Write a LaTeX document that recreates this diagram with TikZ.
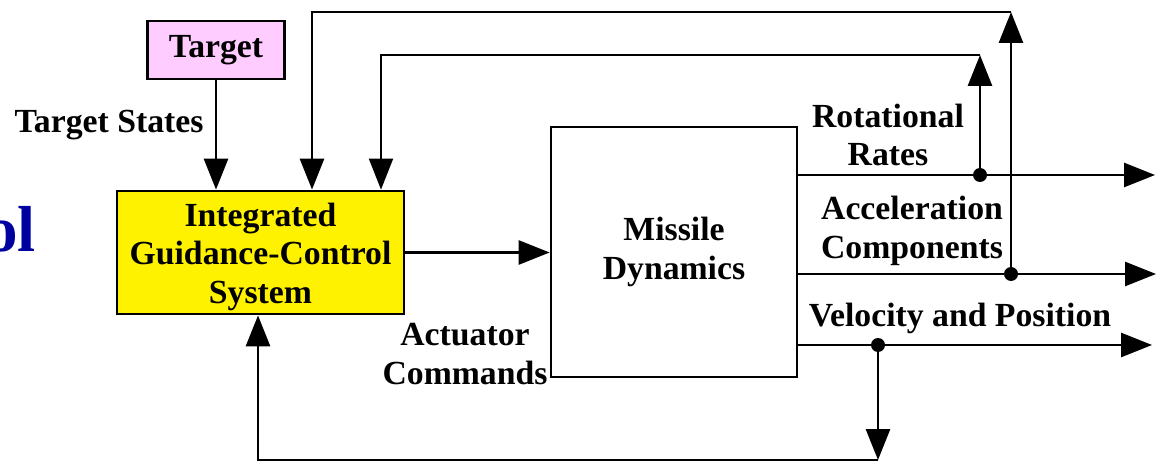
\documentclass[tikz,border=0pt]{standalone}
\usepackage{fontspec}
\setmainfont{Liberation Serif}
\usepackage{xcolor}
\usepackage{tikz}
\usetikzlibrary{arrows.meta, positioning, calc}

\definecolor{targetpink}{RGB}{255,204,255}
\definecolor{titleblue}{RGB}{0,0,160}
\newcommand{\tagfont}{\fontsize{19.2}{22}\selectfont\bfseries}

\begin{document}
\begin{tikzpicture}[
    x=0.02cm, y=-0.02cm,
    block/.style={rectangle, draw, line width=1.6pt, inner sep=0pt, align=center, font=\tagfont},
    tag/.style={inner sep=0pt, align=center, font=\tagfont},
    arrow/.style={-{Triangle[length=0.62cm, width=0.48cm]}, line width=1.6pt},
    fbline/.style={line width=1.1pt},
    junction/.style={fill=black}
]
\useasboundingbox (0,0) rectangle (1156,462);

% Blocks
\node[block, fill=targetpink, minimum width=2.74cm, minimum height=1.16cm] (target) at (216,50) {Target};
\node[block, fill=yellow, minimum width=5.74cm, minimum height=2.46cm] (igcs) at (260.5,252.5) {\rule{0pt}{0.64cm}Integrated\\Guidance-Control\\System};
\node[block, minimum width=4.92cm, minimum height=5cm] (missile) at (674,252) {Missile\\Dynamics};

% Signal names
\node[tag, anchor=base] (tstates) at (109,133) {Target States};
\node[tag] (actcmd) at (465,354) {Actuator\\Commands};
\node[tag] (rotrates) at (888,135) {Rotational\\Rates};
\node[tag] (acccomp) at (912,231) {Acceleration\\Components};
\node[tag, anchor=base] (velpos) at (960,327) {Velocity and Position};
\node[inner sep=0pt, anchor=base east, text=titleblue, font=\fontsize{37}{40}\selectfont\bfseries] (title) at (36,252) {ol};

% Branch points and ends
\coordinate (rr) at (980,175);
\coordinate (rrTop) at (980,55);
\coordinate (rrIn) at (381,55);
\coordinate (rrEnd) at (1155,175);
\coordinate (ac) at (1011,274);
\coordinate (acTop) at (1011,12);
\coordinate (acIn) at (312,12);
\coordinate (acEnd) at (1156,274);
\coordinate (vp) at (878,345);
\coordinate (vpBot) at (878,460);
\coordinate (vpIn) at (258,460);
\coordinate (vpEnd) at (1152,345);

% Forward path
\draw[arrow] (target) -- (target |- igcs.north);
\draw[arrow] (igcs.east) -- (igcs.east -| missile.west);

% Outputs
\draw[arrow] (missile.east |- rrEnd) -- (rrEnd);
\draw[arrow] (missile.east |- acEnd) -- (acEnd);
\draw[arrow] (missile.east |- vpEnd) -- (vpEnd);

% Feedback loops
\draw[arrow] (rr) -- (rrTop);
\draw[arrow, fbline] (rrTop) -- (rrIn) -- (rrIn |- igcs.north);
\draw[arrow] (ac) -- (acTop);
\draw[arrow] (acTop) -- (acIn) -- (acIn |- igcs.north);
\draw[arrow] (vp) -- (vpBot);
\draw[arrow] (vpBot) -- (vpIn) -- (vpIn |- igcs.south);

\fill[junction] (rr) circle (0.14cm);
\fill[junction] (ac) circle (0.14cm);
\fill[junction] (vp) circle (0.14cm);

\end{tikzpicture}
\end{document}
